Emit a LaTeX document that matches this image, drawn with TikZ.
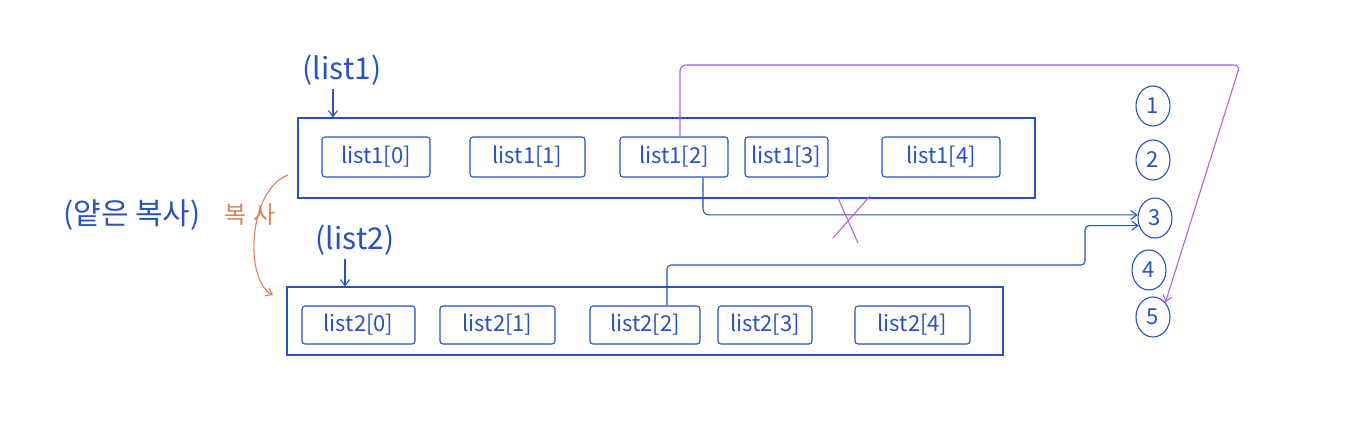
\documentclass[tikz,border=0pt]{standalone}
\usepackage{fontspec}
\setmainfont{Noto Sans CJK KR}
\usetikzlibrary{arrows.meta,shapes.geometric}
\definecolor{ink}{HTML}{2A52BE}
\definecolor{violet pen}{HTML}{B060E0}
\definecolor{coral pen}{HTML}{E0805A}
\begin{document}
\begin{tikzpicture}[x=1pt,y=-1pt]
            \tikzstyle{pen}=[draw=ink,line width=1.1pt]
            \tikzstyle{list box}=[pen,minimum height=80,inner sep=0]
            \tikzstyle{elem}=[pen,rounded corners=3pt,text=ink,font=\fontsize{22}{24}\selectfont,minimum height=40,inner sep=2]
            \tikzstyle{ref}=[pen,ellipse,minimum width=34,minimum height=40,inner sep=0,text=ink,font=\fontsize{22}{24}\selectfont]
            \tikzstyle{label}=[text=ink,font=\fontsize{30}{32}\selectfont]
            \tikzstyle{tip}=[-{Straight Barb[length=6pt,width=9pt]}]

            \useasboundingbox (0,0) rectangle (1361,428);

            % list1
            \node(lbl1)[label] at (342,70){(list1)};
            \node(list1)[list box,minimum width=737] at (666.5,158){};
            \node(e10)[elem,minimum width=108] at (376,157){list1[0]};
            \node(e11)[elem,minimum width=115] at (527.5,157){list1[1]};
            \node(e12)[elem,minimum width=108] at (674,157){list1[2]};
            \node(e13)[elem,minimum width=83] at (786.5,157){list1[3]};
            \node(e14)[elem,minimum width=118] at (941,157){list1[4]};

            % list2
            \node(lbl2)[label] at (355,240){(list2)};
            \node(list2)[list box,minimum width=716,minimum height=68] at (645,321){};
            \node(e20)[elem,minimum width=113,minimum height=38] at (358.5,325){list2[0]};
            \node(e21)[elem,minimum width=115,minimum height=38] at (497.5,325){list2[1]};
            \node(e22)[elem,minimum width=110,minimum height=38] at (645,325){list2[2]};
            \node(e23)[elem,minimum width=94,minimum height=38] at (765,325){list2[3]};
            \node(e24)[elem,minimum width=115,minimum height=38] at (912.5,325){list2[4]};

            % objects
            \node(c1)[ref] at (1153,106){1};
            \node(c2)[ref] at (1153,160){2};
            \node(c3)[ref] at (1155,218){3};
            \node(c4)[ref] at (1149,270){4};
            \node(c5)[ref] at (1153,317){5};

            % shallow copy
            \node(shallow)[label] at (132,215){(얕은 복사)};
            \node(copy)[text=coral pen,font=\fontsize{24}{26}\selectfont] at (250,215){복\hspace{6pt}사};
            \coordinate(cpfrom) at (288,175);
            \coordinate(cpto) at (273,295);
            \coordinate(pturn) at (1240,65);
            \coordinate(l2turn) at (1085,265);

            \draw[pen,tip] ([xshift=-9pt]lbl1.south) -- ([xshift=-9pt]lbl1.south |- list1.north);
            \draw[pen,tip] ([xshift=-10pt]lbl2.south) -- ([xshift=-10pt]lbl2.south |- list2.north);
            \draw[draw=coral pen,line width=1.1pt,tip] (cpfrom) .. controls (248,190) and (244,280) .. (cpto);
            \draw[draw=violet pen,line width=1.1pt,tip,rounded corners=6pt] ([xshift=6pt]e12.north) |- (pturn) -- (c5.north east);
            \draw[pen,tip,rounded corners=6pt] ([xshift=29pt]e12.south) |- (c3.170);
            \draw[pen,tip,rounded corners=4pt] ([xshift=22pt]e22.north) |- (l2turn) |- (c3.205);
            \draw[draw=violet pen,line width=1.1pt] (833,238) -- (870,196) (838,198) -- (858,243);
        \end{tikzpicture}
\end{document}
